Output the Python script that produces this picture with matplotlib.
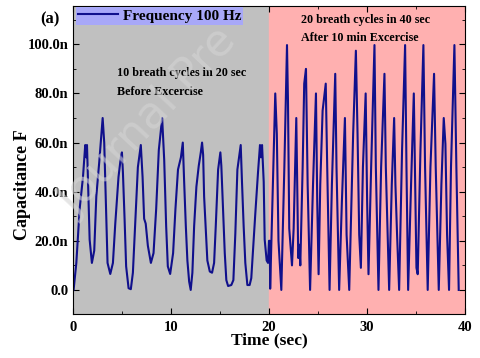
import matplotlib
matplotlib.use('Agg')
import matplotlib.pyplot as plt
from matplotlib.ticker import FuncFormatter, MultipleLocator

# data (time in sec, capacitance in nF)
t_before = [0.03, 0.31, 0.65, 0.99, 1.22, 1.33, 1.40, 1.56, 1.67, 1.90, 2.14, 2.35, 2.65, 3.00,
            3.16, 3.37, 3.50, 3.78, 4.05, 4.29, 4.62, 4.86, 4.97, 5.07, 5.24, 5.40, 5.65, 5.88,
            6.09, 6.33, 6.60, 6.90, 7.08, 7.24, 7.40, 7.62, 7.93, 8.20, 8.47, 8.74, 9.08, 9.29,
            9.49, 9.66, 9.90, 10.20, 10.44, 10.70, 11.00, 11.19, 11.33, 11.50, 11.66, 11.84, 12.00,
            12.17, 12.35, 12.58, 12.82, 13.03, 13.16, 13.27, 13.37, 13.54, 13.70, 13.95, 14.18,
            14.39, 14.56, 14.80, 15.03, 15.13, 15.30, 15.48, 15.64, 15.82, 16.15, 16.36, 16.56,
            16.77, 16.97, 17.11, 17.24, 17.41, 17.58, 17.79, 18.02, 18.19, 18.43, 18.60, 18.88,
            19.08, 19.18, 19.29, 19.46, 19.56, 19.76, 19.90, 20.00, 20.08]
c_before = [0, 11, 33, 46, 59, 54, 59, 37, 20.5, 11, 16, 38, 52, 70,
            60, 29, 11, 6.5, 11, 27, 46, 54, 56, 48, 29, 9.6, 0.7, 0.3,
            7, 27, 50, 59, 46, 29, 27, 18, 11, 15, 33, 57, 70, 53,
            26, 9.6, 6.5, 15, 33, 49, 54, 60, 44, 26, 12, 3.4, 0,
            7, 26, 42, 50.5, 56, 60, 55, 38, 24.6, 12, 7.5, 7,
            11, 26, 49, 56, 50.5, 33, 15, 4, 1.6, 2, 4, 23,
            49, 55, 59, 44, 26, 11, 2, 2, 4.8, 20.5, 31, 48,
            59, 54, 59, 44, 20.5, 12, 11, 20, 20]

t_after = [20.12, 20.64, 20.80, 20.97, 21.26, 21.57, 21.84, 21.94, 22.07, 22.35, 22.52, 22.79,
           22.93, 22.99, 23.10, 23.20, 23.44, 23.60, 23.78, 23.95, 24.20, 24.50, 24.80, 24.93,
           25.07, 25.24, 25.48, 25.80, 25.95, 26.19, 26.43, 26.77, 26.90, 27.17, 27.45, 27.76,
           27.93, 28.20, 28.60, 28.88, 29.05, 29.22, 29.39, 29.60, 29.88, 30.03, 30.17, 30.44,
           30.78, 30.92, 31.19, 31.46, 31.80, 31.94, 32.28, 32.55, 32.79, 32.92, 33.09, 33.30,
           33.60, 33.91, 34.05, 34.22, 34.52, 34.80, 34.97, 35.07, 35.20, 35.48, 35.78, 35.95,
           36.22, 36.50, 36.87, 37.04, 37.35, 37.62, 37.86, 38.03, 38.20, 38.40, 38.60, 38.95,
           39.15, 39.39]
c_after = [0.5, 80, 63.5, 20, 0, 50, 99.7, 77, 25, 10, 25, 70,
           28, 13, 18.4, 10, 50, 84, 90, 43, 0, 43, 80, 36,
           6.4, 43, 73, 84, 50, 0, 43, 88, 50, 0, 36, 70,
           22.5, 0, 63.5, 97.4, 63.5, 22.5, 9, 50, 80, 36, 6.4, 50,
           99.7, 50, 0, 50, 88, 50, 0, 43, 70, 43, 22.5, 0,
           57, 99.7, 50, 0, 43, 80, 36, 9, 6.4, 57, 99.7, 50,
           0, 50, 88, 50, 0, 43, 70, 59.4, 22.5, 0, 50, 99.7,
           50, 0]

t = t_before + t_after
cap = [c * 1e-9 for c in c_before + c_after]

plt.rcParams['font.family'] = ['Liberation Serif', 'DejaVu Serif']
plt.rcParams['font.weight'] = 'bold'

fig = plt.figure(figsize=(4.8, 3.58), dpi=100)
ax = fig.add_axes([0.1527, 0.1229, 0.8154, 0.8603])

ax.axvspan(0, 20.05, color='#c0c0c0', zorder=0)
ax.axvspan(20.05, 40, color='#ffb0b0', zorder=0)
ax.plot(t, cap, color='#10108c', lw=1.5, label='Frequency 100 Hz', zorder=2)

ax.set_xlim(0, 40)
ax.set_ylim(-9.8e-9, 115.6e-9)
ax.xaxis.set_major_locator(MultipleLocator(10))
ax.xaxis.set_minor_locator(MultipleLocator(5))
ax.yaxis.set_major_locator(MultipleLocator(20e-9))
ax.yaxis.set_minor_locator(MultipleLocator(10e-9))
ax.yaxis.set_major_formatter(FuncFormatter(
    lambda v, p: '0.0' if abs(v) < 1e-12 else '{:.1f}n'.format(v * 1e9)))
ax.tick_params(which='both', direction='in', top=True, right=True, labelsize=10.5)
ax.tick_params(which='major', length=4)
ax.tick_params(which='minor', length=2.5)
ax.tick_params(axis='x', pad=5)

ax.set_xlabel('Time (sec)', fontsize=12.5, fontweight='bold', labelpad=-1)
ax.set_ylabel('Capacitance F', fontsize=13, fontweight='bold')
ax.yaxis.label.set_va('center')
ax.yaxis.set_label_coords(-0.131, 0.42)

ax.text(117, 358 - 73, '10 breath cycles in 20 sec', transform=None, fontsize=8.7,
        fontweight='bold', va='center')
ax.text(117, 358 - 92, 'Before Excercise', transform=None, fontsize=8.7,
        fontweight='bold', va='center')
ax.text(301, 358 - 20, '20 breath cycles in 40 sec', transform=None, fontsize=8.7,
        fontweight='bold', va='center')
ax.text(301, 358 - 38, 'After 10 min Excercise', transform=None, fontsize=8.7,
        fontweight='bold', va='center')
fig.text(50 / 480, 1 - 19 / 358, '(a)', fontsize=12, fontweight='bold', ha='center', va='center')

leg = ax.legend(loc='upper left', bbox_to_anchor=(0.005, 1.0), fontsize=11, frameon=True,
                fancybox=False, borderpad=0.15, handlelength=2.6, handletextpad=0.3,
                borderaxespad=0.05)
leg.get_frame().set_facecolor('#a8a8f8')
leg.get_frame().set_edgecolor('none')
leg.get_frame().set_alpha(1)

# faint watermark
fig.text(148 / 480, 1 - 122 / 358, 'Journal Pre', fontsize=32, color='#d4d4d4', alpha=0.6,
         rotation=47, ha='center', va='center', fontweight='normal',
         family='DejaVu Sans', zorder=5)

fig.savefig('out.png', dpi=100)
